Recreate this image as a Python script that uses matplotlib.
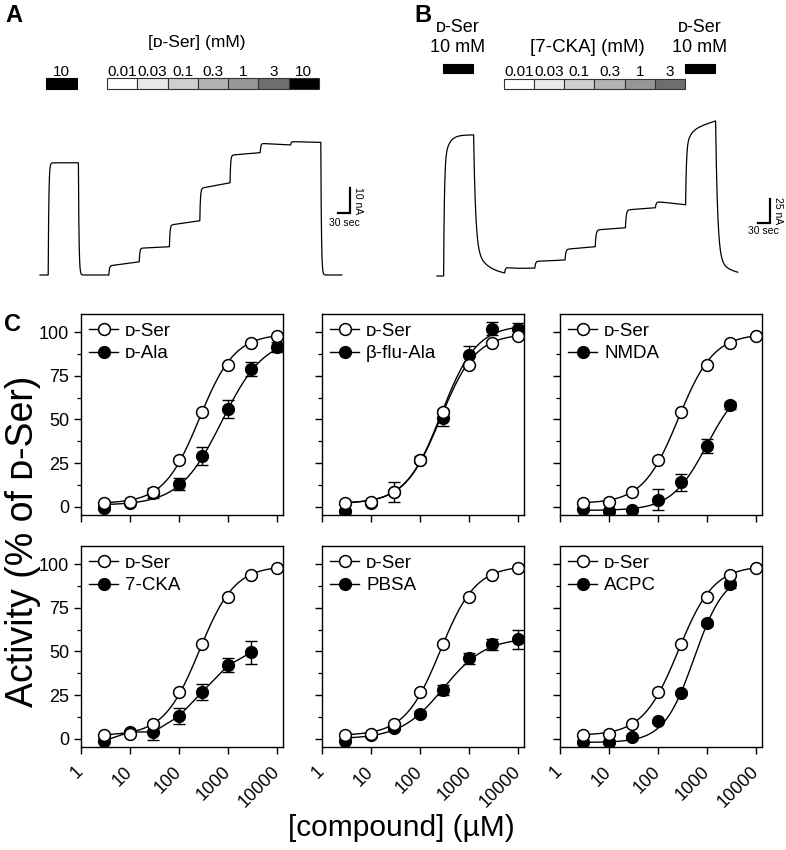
import numpy as np
import matplotlib
matplotlib.use("Agg")
import matplotlib.pyplot as plt
from matplotlib.lines import Line2D
from matplotlib.patches import Rectangle
from matplotlib.transforms import blended_transform_factory
from matplotlib.ticker import LogLocator, NullFormatter, FixedLocator

plt.rcParams['font.family'] = ['Liberation Sans', 'DejaVu Sans']
plt.rcParams['axes.linewidth'] = 1.0

W, H = 786, 850
SC_D = "\u1d05"          # small-capital D
DSER = SC_D + "-Ser"

# ---------------- panel A : D-Ser steps (time in s, current in nA) ----------------
a_conc_labels = ["0.01", "0.03", "0.1", "0.3", "1", "3", "10"]
a_conc_grey = ["#ffffff", "#e9e9e9", "#cfcfcf", "#b3b3b3", "#979797", "#6e6e6e", "#000000"]
a_ref_on, a_ref_dur = 16.0, 75.5
a_steps_on, a_step_dur = 167.5, 75.7
a_lag = 5.0
a_ref_level = (44.0, 44.0)
a_step_level = [(3.6, 5.2), (10.5, 11.1), (19.6, 21.3), (34.0, 36.2),
                (47.0, 48.0), (51.6, 51.0), (52.3, 52.0)]
a_t_end = 755.0

# ---------------- panel B : 7-CKA steps ----------------
b_conc_labels = ["0.01", "0.03", "0.1", "0.3", "1", "3"]
b_conc_grey = ["#ffffff", "#e9e9e9", "#cfcfcf", "#b3b3b3", "#979797", "#6e6e6e"]
b_ref1_on, b_ref_dur = 15.0, 75.0
b_steps_on, b_step_dur = 167.5, 75.4
b_lag = 2.0
b_ref1_level = (147.0, 147.0)
b_ref2_level = (152.0, 162.0)
b_step_level = [(6.0, 8.0), (15.0, 16.7), (27.8, 30.6), (48.0, 50.3),
                (68.8, 71.2), (77.4, 74.0)]
b_t_end = 752.5

# ---------------- panel C : concentration-response (% of D-Ser) ----------------
conc = [3, 10, 30, 100, 300, 1000, 3000, 10000]
dser_mean = [2.2, 2.8, 8.7, 27.0, 54.5, 81.0, 93.5, 97.8]
dser_fit = (2.0, 99.0, 260.0, 1.2)          # bottom, top, EC50 (uM), Hill slope

dala_conc = [3, 10, 30, 100, 300, 1000, 3000, 10000]
dala_mean = [-0.7, 2.0, 8.0, 13.0, 29.0, 56.0, 79.0, 91.5]
dala_sem = [1.0, 1.0, 3.0, 3.5, 5.0, 5.0, 4.0, 3.0]
dala_fit = (1.0, 97.0, 750.0, 1.0)

bflu_conc = [3, 10, 30, 100, 300, 1000, 3000, 10000]
bflu_mean = [-2.5, 2.0, 8.5, 27.0, 51.0, 87.0, 102.0, 102.0]
bflu_sem = [1.0, 1.0, 5.5, 2.0, 5.0, 5.0, 3.5, 3.0]
bflu_fit = (2.0, 104.0, 270.0, 1.2)

nmda_conc = [3, 10, 30, 100, 300, 1000, 3000]
nmda_mean = [-1.0, -2.5, -1.5, 4.0, 14.0, 35.0, 58.0]
nmda_sem = [1.0, 1.0, 1.0, 6.0, 5.0, 4.0, 2.0]
nmda_fit = (-2.0, 73.0, 1000.0, 1.2)

cka_conc = [3, 10, 30, 100, 300, 1000, 3000]
cka_mean = [-1.0, 4.0, 4.0, 13.0, 27.0, 42.0, 49.5]
cka_sem = [1.0, 1.0, 4.5, 4.5, 4.5, 4.0, 6.5]
cka_fit = None                               # points joined

pbsa_conc = [3, 10, 30, 100, 300, 1000, 3000, 10000]
pbsa_mean = [-1.0, 2.0, 6.0, 14.5, 28.0, 46.0, 54.0, 57.0]
pbsa_sem = [1.0, 1.0, 1.0, 1.5, 3.0, 3.0, 3.0, 5.5]
pbsa_fit = (0.0, 58.0, 300.0, 1.0)

acpc_conc = [3, 10, 30, 100, 300, 1000, 3000]
acpc_mean = [-2.0, -2.0, 1.0, 10.0, 26.5, 66.0, 88.5]
acpc_sem = [1.0, 1.0, 1.0, 1.0, 1.0, 1.5, 2.0]
acpc_fit = (-2.0, 95.0, 550.0, 1.4)

cmp_names = [SC_D + "-Ala", "\u03b2-flu-Ala", "NMDA", "7-CKA", "PBSA", "ACPC"]
cmp_conc = [dala_conc, bflu_conc, nmda_conc, cka_conc, pbsa_conc, acpc_conc]
cmp_mean = [dala_mean, bflu_mean, nmda_mean, cka_mean, pbsa_mean, acpc_mean]
cmp_sem = [dala_sem, bflu_sem, nmda_sem, cka_sem, pbsa_sem, acpc_sem]
cmp_fit = [dala_fit, bflu_fit, nmda_fit, cka_fit, pbsa_fit, acpc_fit]


def hill(x, bottom, top, ec50, nh):
    return bottom + (top - bottom) / (1.0 + (ec50 / x) ** nh)


def smooth(target, dt, tau_up, tau_down):
    out = np.zeros_like(target)
    for k in range(1, len(target)):
        tau = tau_up if target[k] > out[k - 1] else tau_down
        out[k] = out[k - 1] + (target[k] - out[k - 1]) * (1 - np.exp(-dt / tau))
    return out


def build_trace(t, segs, fast, slow):
    # segs: (t_on, t_off, level_start, level_end, slow_fraction)
    tf = np.zeros_like(t)
    ts = np.zeros_like(t)
    for on, off, l0, l1, fr in segs:
        m = (t >= on) & (t < off)
        lvl = l0 + (l1 - l0) * (t[m] - on) / (off - on)
        tf[m] = lvl * (1 - fr)
        ts[m] = lvl * fr
    dt = t[1] - t[0]
    return smooth(tf, dt, *fast) + smooth(ts, dt, *slow)


def px_axes(fig, x0, y0, x1, y1):
    return fig.add_axes([x0 / W, 1 - y1 / H, (x1 - x0) / W, (y1 - y0) / H])


def fy(py):
    return 1 - py / H


fig = plt.figure(figsize=(W / 100, H / 100), dpi=100)

# ================= panel A =================
axA = px_axes(fig, 0, 0, 393, 300)
axA.set_xlim((0 - 40) * 2.5, (393 - 40) * 2.5)
axA.set_ylim((275 - 300) / 2.55, 275 / 2.55)
axA.axis("off")
tA = np.arange(0, a_t_end, 0.5)
segA = [(a_ref_on + a_lag, a_ref_on + a_ref_dur + a_lag, *a_ref_level, 0.0)]
for i, lv in enumerate(a_step_level):
    on = a_steps_on + i * a_step_dur + a_lag
    segA.append((on, on + a_step_dur, *lv, 0.0))
axA.plot(tA, build_trace(tA, segA, (1.5, 1.5), (1.0, 1.0)), color="k", lw=0.9)

trA = blended_transform_factory(axA.transData, fig.transFigure)
axA.add_patch(Rectangle((a_ref_on, fy(89)), a_ref_dur, 11 / H, transform=trA,
                        facecolor="k", edgecolor="k", lw=0.8, clip_on=False))
axA.text(a_ref_on + a_ref_dur / 2, fy(72), "10", transform=trA, ha="center",
         va="center", fontsize=11)
for i, (lab, col) in enumerate(zip(a_conc_labels, a_conc_grey)):
    x0 = a_steps_on + i * a_step_dur
    axA.add_patch(Rectangle((x0, fy(89)), a_step_dur, 11 / H, transform=trA,
                            facecolor=col, edgecolor="#333333", lw=0.8, clip_on=False))
    axA.text(x0 + a_step_dur / 2, fy(72), lab, transform=trA, ha="center",
             va="center", fontsize=11)
axA.text(a_steps_on + 3 * a_step_dur - 3, fy(43), "[" + DSER + "] (mM)", transform=trA,
         ha="center", va="center", fontsize=12.5)
# scale bar 10 nA / 30 s
axA.plot([745, 775, 775], [24.3, 24.3, 34.3], color="k", lw=1.6, solid_joinstyle="miter")
axA.text(782, 29.3, "10 nA", rotation=270, ha="left", va="center", fontsize=7.5)
axA.text(760, 22.5, "30 sec", ha="center", va="top", fontsize=7.5)

# ================= panel B =================
axB = px_axes(fig, 393, 0, 786, 300)
axB.set_xlim((393 - 437) * 2.5, (786 - 437) * 2.5)
axB.set_ylim((276 - 300) / 0.96, 276 / 0.96)
axB.axis("off")
tB = np.arange(0, b_t_end, 0.5)
segB = [(b_ref1_on + b_lag, b_ref1_on + b_ref_dur + b_lag, *b_ref1_level, 0.2)]
for i, lv in enumerate(b_step_level):
    on = b_steps_on + i * b_step_dur + b_lag
    segB.append((on, on + b_step_dur, *lv, 0.0))
b_ref2_on = b_steps_on + len(b_step_level) * b_step_dur
segB.append((b_ref2_on + b_lag, b_ref2_on + b_ref_dur + b_lag, *b_ref2_level, 0.12))
axB.plot(tB, build_trace(tB, segB, (2.0, 5.0), (12.0, 35.0)), color="k", lw=0.9)

trB = blended_transform_factory(axB.transData, fig.transFigure)
for on in (b_ref1_on, b_ref2_on):
    axB.add_patch(Rectangle((on, fy(73)), b_ref_dur, 9 / H, transform=trB,
                            facecolor="k", edgecolor="k", lw=0.8, clip_on=False))
    axB.text(on + b_ref_dur / 2, fy(27), DSER, transform=trB, ha="center",
             va="center", fontsize=13)
    axB.text(on + b_ref_dur / 2, fy(48), "10 mM", transform=trB, ha="center",
             va="center", fontsize=13)
for i, (lab, col) in enumerate(zip(b_conc_labels, b_conc_grey)):
    x0 = b_steps_on + i * b_step_dur
    axB.add_patch(Rectangle((x0, fy(89)), b_step_dur, 10 / H, transform=trB,
                            facecolor=col, edgecolor="#333333", lw=0.8, clip_on=False))
    axB.text(x0 + b_step_dur / 2, fy(72), lab, transform=trB, ha="center",
             va="center", fontsize=11)
axB.text(375, fy(48), "[7-CKA] (mM)", transform=trB, ha="center", va="center", fontsize=13.5)
axB.plot([802.5, 832.5, 832.5], [55.2, 55.2, 80.2], color="k", lw=1.6, solid_joinstyle="miter")
axB.text(840, 67.7, "25 nA", rotation=270, ha="left", va="center", fontsize=7.5)
axB.text(817, 52, "30 sec", ha="center", va="top", fontsize=7.5)

fig.text(5 / W, fy(4), "A", fontsize=17, fontweight="bold", ha="left", va="top")
fig.text(414 / W, fy(4), "B", fontsize=17, fontweight="bold", ha="left", va="top")
fig.text(4 / W, fy(313), "C", fontsize=17, fontweight="bold", ha="left", va="top")

# ================= panel C =================
cols_x = [(81, 283), (322, 524), (560, 762)]
rows_y = [(314, 515), (546, 747)]
ms = 8.5
for i in range(6):
    r, c = divmod(i, 3)
    ax = px_axes(fig, cols_x[c][0], rows_y[r][0], cols_x[c][1], rows_y[r][1])
    ax.set_xscale("log")
    ax.set_xlim(1, 13250)
    ax.set_ylim(-4.6, 110.3)

    # compound
    x = np.array(cmp_conc[i], dtype=float)
    ax.errorbar(x, cmp_mean[i], yerr=cmp_sem[i], fmt="none", ecolor="k",
                elinewidth=1.0, capsize=4, capthick=1.0, zorder=2)
    if cmp_fit[i] is None:
        ax.plot(x, cmp_mean[i], color="k", lw=1.0, zorder=2)
    else:
        xf = np.logspace(np.log10(x[0]), np.log10(x[-1]), 200)
        ax.plot(xf, hill(xf, *cmp_fit[i]), color="k", lw=1.0, zorder=2)
    ax.plot(x, cmp_mean[i], "o", color="k", ms=ms, zorder=3)

    # D-Ser reference
    xd = np.array(conc, dtype=float)
    xf = np.logspace(np.log10(xd[0]), np.log10(xd[-1]), 200)
    ax.plot(xf, hill(xf, *dser_fit), color="k", lw=1.0, zorder=4)
    ax.plot(xd, dser_mean, "o", mfc="white", mec="k", mew=1.1, ms=ms, zorder=5)

    handles = [Line2D([], [], color="k", lw=1.0, marker="o", mfc="white", mec="k",
                      mew=1.1, ms=ms),
               Line2D([], [], color="k", lw=1.0, marker="o", mfc="k", ms=ms)]
    ax.legend(handles, [DSER, cmp_names[i]], loc="upper left", frameon=False,
              fontsize=13.5, handlelength=1.5, handletextpad=0.4, labelspacing=0.3,
              borderaxespad=0.2, borderpad=0.25)

    ax.set_yticks([0, 25, 50, 75, 100])
    ax.yaxis.set_minor_locator(FixedLocator([12.5, 37.5, 62.5, 87.5]))
    ax.set_xticks([1, 10, 100, 1000, 10000])
    ax.xaxis.set_minor_locator(LogLocator(base=10, subs=np.arange(2, 10)))
    ax.xaxis.set_minor_formatter(NullFormatter())
    ax.tick_params(which="major", direction="out", length=5, width=1.0, labelsize=13)
    ax.tick_params(which="minor", direction="out", length=3, width=0.9)
    if c == 0:
        ax.set_yticklabels(["0", "25", "50", "75", "100"])
    else:
        ax.set_yticklabels([])
    if r == 1:
        ax.set_xticklabels(["1", "10", "100", "1000", "10000"], rotation=45,
                           ha="right", va="center", rotation_mode="anchor")
        ax.tick_params(axis="x", pad=11)
    else:
        ax.set_xticklabels([])

fig.text(23 / W, fy(541), "Activity (% of " + DSER + ")", rotation=90, ha="center",
         va="center", fontsize=27)
fig.text(401 / W, fy(828), "[compound] (\u00b5M)", ha="center", va="center", fontsize=21.5)

fig.savefig("out.png", dpi=100)
